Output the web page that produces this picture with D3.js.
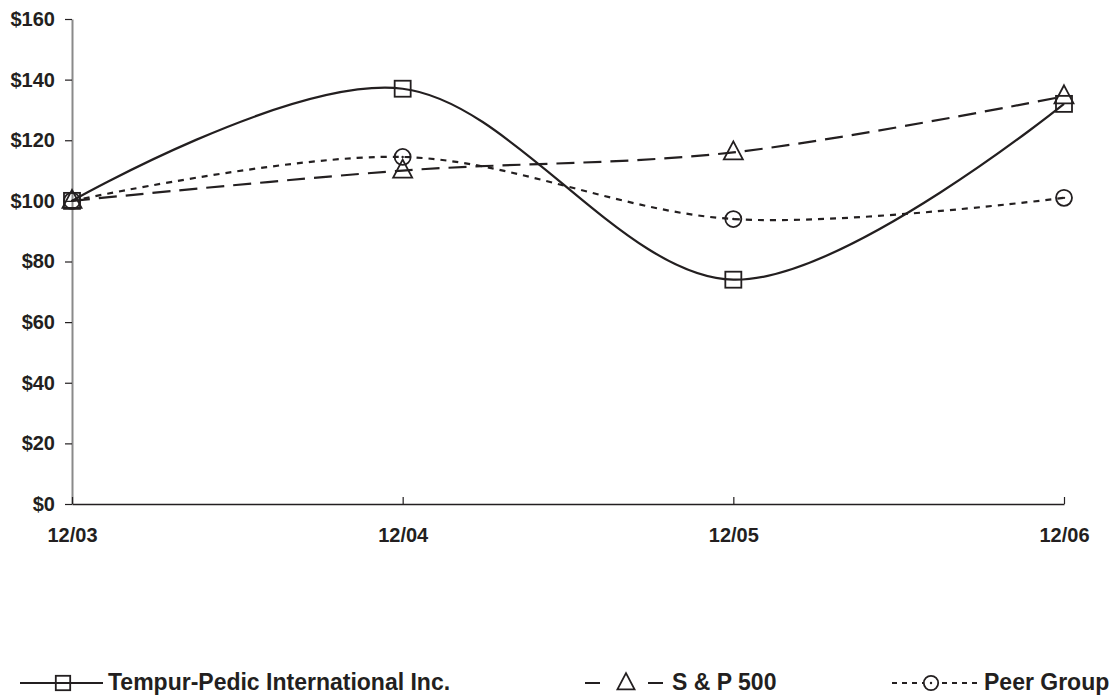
<!DOCTYPE html>
<html>
<head>
<meta charset="utf-8">
<script src="https://cdn.jsdelivr.net/npm/d3@7"></script>
<style>
  body { margin: 0; background: #fff; }
  text { font-family: "Liberation Sans", Arial, sans-serif; font-weight: bold; fill: #231f20; }
</style>
</head>
<body>
<script>
// data
var periods = ["12/03", "12/04", "12/05", "12/06"];
var tempur = [100, 137, 74, 132];
var sp500 = [100, 110, 116, 134.5];
var peer = [100, 114.5, 94, 101];
var yTicks = [0, 20, 40, 60, 80, 100, 120, 140, 160];
var seriesNames = ["Tempur-Pedic International Inc.", "S & P 500", "Peer Group"];

var w = 1112, h = 696;
var ink = "#231f20";

var svg = d3.select("body").append("svg")
    .attr("width", w)
    .attr("height", h);

var x = d3.scalePoint()
    .domain(periods)
    .range([72, 1064]);

var y = d3.scaleLinear()
    .domain([0, 160])
    .range([504, 19]);

// y axis
var yAxis = svg.append("g")
    .attr("transform", "translate(72,0)")
    .call(d3.axisLeft(y).tickValues(yTicks).tickFormat(function (d) { return "$" + d; }).tickSize(7).tickSizeOuter(0));
yAxis.select(".domain").attr("stroke", "#8a8a8a").attr("stroke-width", 2);
yAxis.selectAll(".tick line").attr("stroke", ink).attr("stroke-width", 1.2);
yAxis.selectAll(".tick text").attr("x", -17).attr("font-size", 20).attr("fill", ink);

// x axis (ticks point up)
var xAxis = svg.append("g")
    .attr("transform", "translate(0,504)")
    .call(d3.axisBottom(x).tickSize(-7).tickSizeOuter(0));
xAxis.select(".domain").attr("stroke", ink).attr("stroke-width", 1.5);
xAxis.selectAll(".tick line").attr("stroke", ink).attr("stroke-width", 1.2);
xAxis.selectAll(".tick text").attr("y", 24).attr("font-size", 20).attr("fill", ink);

var line = d3.line()
    .x(function (d, i) { return x(periods[i]); })
    .y(function (d) { return y(d); })
    .curve(d3.curveCatmullRom.alpha(0));

var series = [
  { name: seriesNames[0], values: tempur, dash: null, marker: "square" },
  { name: seriesNames[1], values: sp500, dash: "18,9", marker: "triangle" },
  { name: seriesNames[2], values: peer, dash: "6,6", marker: "circle" }
];

function drawMarker(g, type, cx, cy, s) {
  s = s || 1;
  if (type === "square") {
    g.append("rect").attr("x", cx - 8 * s).attr("y", cy - 8 * s).attr("width", 16 * s).attr("height", 16 * s)
      .attr("fill", "none").attr("stroke", ink).attr("stroke-width", 1.8);
  } else if (type === "triangle") {
    g.append("path")
      .attr("d", "M" + cx + "," + (cy - 11 * s) + "L" + (cx + 9.5 * s) + "," + (cy + 7 * s) + "L" + (cx - 9.5 * s) + "," + (cy + 7 * s) + "Z")
      .attr("fill", "none").attr("stroke", ink).attr("stroke-width", 1.8);
  } else {
    g.append("circle").attr("cx", cx).attr("cy", cy).attr("r", 8 * s)
      .attr("fill", "none").attr("stroke", ink).attr("stroke-width", 1.8);
    g.append("circle").attr("cx", cx).attr("cy", cy).attr("r", 1.2).attr("fill", ink);
  }
}

// draw in back-to-front order: peer, sp, tempur
series.slice().reverse().forEach(function (s) {
  svg.append("path")
    .datum(s.values)
    .attr("d", line)
    .attr("fill", "none")
    .attr("stroke", ink)
    .attr("stroke-width", 2.2)
    .attr("stroke-dasharray", s.dash);
  var mg = svg.append("g");
  s.values.forEach(function (v, i) {
    drawMarker(mg, s.marker, x(periods[i]), y(v));
  });
});

// legend
var legendLine = [[20, 103], [585, 663], [892, 978]];
var legendMark = [63, 626, 931];
var legendText = [108, 672, 984];
var legendDash = [null, "15,48,15", "5,5"];
var legendY = 683;
series.forEach(function (s, i) {
  var g = svg.append("g");
  g.append("line")
    .attr("x1", legendLine[i][0]).attr("x2", legendLine[i][1])
    .attr("y1", legendY).attr("y2", legendY)
    .attr("stroke", ink).attr("stroke-width", 2.2)
    .attr("stroke-dasharray", legendDash[i]);
  if (i === 2) {
    g.append("rect").attr("x", legendMark[i] - 8).attr("y", legendY - 9).attr("width", 16).attr("height", 18).attr("fill", "#fff");
  }
  drawMarker(g, s.marker, legendMark[i], legendY, 0.9);
  g.append("text")
    .attr("x", legendText[i])
    .attr("y", 690)
    .attr("font-size", 23)
    .attr("fill", ink)
    .text(s.name);
});
</script>
</body>
</html>
